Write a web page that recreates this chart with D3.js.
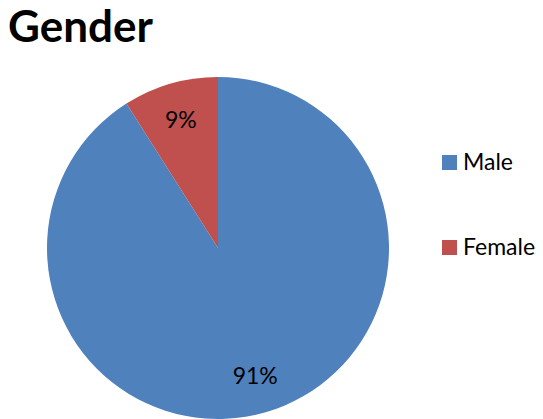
<!DOCTYPE html>
<html>
<head>
<meta charset="utf-8">
<script src="https://cdn.jsdelivr.net/npm/d3@7"></script>
<style>
  body { margin: 0; background: #fff; }
  svg { display: block; font-family: Lato, "Noto Sans", sans-serif; }
</style>
</head>
<body>
<script>
'use strict';

// chart data
const categories = ["Male", "Female"];
const shares = [91, 9];
const colors = ["#4F81BD", "#C0504D"];

const width = 543, height = 419;
const cx = 218, cy = 248, radius = 171;

const svg = d3.select("body").append("svg")
  .attr("width", width)
  .attr("height", height);

// title
svg.append("text")
  .attr("x", 8)
  .attr("y", 42)
  .style("font-size", "44px")
  .style("font-weight", "bold")
  .text("Gender");

// pie
const pie = d3.pie().sort(null).value((d) => d.value);
const arc = d3.arc().innerRadius(0).outerRadius(radius);
const labelArc = d3.arc().innerRadius(radius * 0.78).outerRadius(radius * 0.78);

const slices = pie(categories.map((c, i) => ({ name: c, value: shares[i] })));

const g = svg.append("g").attr("transform", `translate(${cx},${cy})`);

g.selectAll("path")
  .data(slices)
  .enter()
  .append("path")
  .attr("d", arc)
  .attr("fill", (d, i) => colors[i]);

g.selectAll(".lbl")
  .data(slices)
  .enter()
  .append("text")
  .attr("class", "lbl")
  .attr("transform", (d) => `translate(${labelArc.centroid(d)})`)
  .attr("text-anchor", "middle")
  .attr("dy", "0.35em")
  .style("font-size", "23px")
  .style("fill", "#000")
  .text((d) => d.data.value + "%");

// legend
const legendY = d3.scalePoint().domain(categories).range([162, 247]);

const legend = svg.selectAll(".leg")
  .data(categories)
  .enter()
  .append("g")
  .attr("class", "leg")
  .attr("transform", (d) => `translate(442,${legendY(d)})`);

legend.append("rect")
  .attr("x", 0)
  .attr("y", -7)
  .attr("width", 15)
  .attr("height", 15)
  .attr("fill", (d, i) => colors[i]);

legend.append("text")
  .attr("x", 21)
  .attr("y", 8)
  .style("font-size", "23px")
  .text((d) => d);
</script>
</body>
</html>
